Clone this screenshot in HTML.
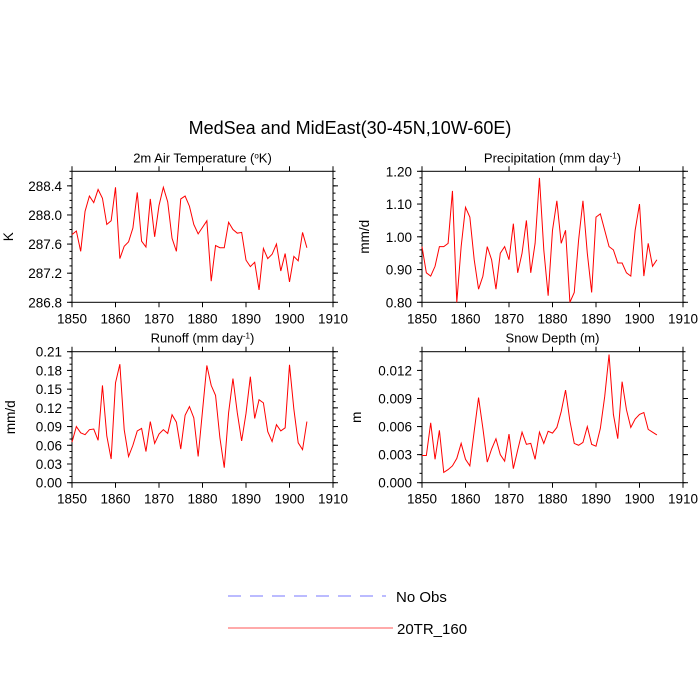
<!DOCTYPE html>
<html><head><meta charset="utf-8"><style>
body{margin:0;background:#fff;}
svg{display:block;font-family:"Liberation Sans",Arial,sans-serif;}
</style></head><body>
<svg id="chart" width="700" height="700" viewBox="0 0 700 700">
<rect width="700" height="700" fill="#fff"/>
<text x="350" y="134" font-size="18" text-anchor="middle">MedSea and MidEast(30-45N,10W-60E)</text>
<g>
<line x1="228" y1="596" x2="386" y2="596" stroke="#7777ff" stroke-width="1" stroke-dasharray="13,9"/>
<text x="396" y="602" font-size="15">No Obs</text>
<line x1="228" y1="628" x2="393" y2="628" stroke="#ff5555" stroke-width="1"/>
<text x="397" y="634" font-size="15">20TR_160</text>
</g>
</svg>
<script>
const years = [];
for (let y = 1850; y <= 1904; y++) years.push(y);
const xTicks = [1850,1860,1870,1880,1890,1900,1910];
const tempValues = [287.73,287.78,287.5,288.05,288.26,288.17,288.35,288.23,287.87,287.92,288.38,287.40,287.57,287.63,287.82,288.31,287.64,287.56,288.22,287.70,288.13,288.38,288.18,287.68,287.50,288.22,288.26,288.12,287.87,287.74,287.83,287.92,287.09,287.58,287.55,287.55,287.90,287.80,287.75,287.76,287.38,287.29,287.35,286.97,287.54,287.40,287.46,287.60,287.23,287.47,287.08,287.43,287.37,287.76,287.55];
const precipValues = [0.97,0.89,0.88,0.91,0.97,0.97,0.98,1.14,0.80,0.97,1.09,1.06,0.93,0.84,0.88,0.97,0.93,0.84,0.95,0.97,0.93,1.04,0.89,0.95,1.05,0.89,0.98,1.18,0.96,0.82,1.02,1.11,0.98,1.02,0.80,0.83,0.99,1.11,0.95,0.83,1.06,1.07,1.02,0.97,0.96,0.92,0.92,0.89,0.88,1.02,1.10,0.88,0.98,0.91,0.93];
const runoffValues = [0.065,0.090,0.080,0.077,0.085,0.086,0.068,0.156,0.075,0.038,0.160,0.190,0.085,0.042,0.060,0.083,0.087,0.050,0.098,0.063,0.078,0.085,0.079,0.109,0.097,0.054,0.108,0.122,0.104,0.042,0.115,0.188,0.156,0.140,0.072,0.024,0.112,0.167,0.112,0.067,0.111,0.170,0.103,0.133,0.128,0.082,0.066,0.093,0.083,0.088,0.189,0.118,0.064,0.053,0.098];
const snowValues = [0.0029,0.0029,0.0064,0.0025,0.0056,0.0011,0.0014,0.0018,0.0026,0.0042,0.0025,0.0018,0.0055,0.0091,0.0058,0.0022,0.0036,0.0047,0.0030,0.0023,0.0052,0.0015,0.0035,0.0054,0.0041,0.0042,0.0025,0.0054,0.0042,0.0055,0.0053,0.0059,0.0076,0.0099,0.0066,0.0042,0.0040,0.0043,0.0060,0.0041,0.0039,0.0058,0.0092,0.0137,0.0073,0.0047,0.0108,0.0078,0.0059,0.0068,0.0073,0.0075,0.0057,0.0054,0.0051];
const tempTicks = ["286.8","287.2","287.6","288.0","288.4"];
const precipTicks = ["0.80","0.90","1.00","1.10","1.20"];
const runoffTicks = ["0.00","0.03","0.06","0.09","0.12","0.15","0.18","0.21"];
const snowTicks = ["0.000","0.003","0.006","0.009","0.012"];

const NS = "http://www.w3.org/2000/svg";
const svg = document.getElementById("chart");
function mk(tag, attrs, parent) {
  const e = document.createElementNS(NS, tag);
  for (const k in attrs) e.setAttribute(k, attrs[k]);
  parent.appendChild(e);
  return e;
}

function panel(cfg) {
  const g = mk("g", {}, svg);
  
  
  const L = cfg.x0, R = cfg.x1, T = cfg.y0, B = cfg.y1;
  const xs = v => L + (v - 1850) / 60 * (R - L);
  const ys = v => B - (v - cfg.ymin) / (cfg.ymax - cfg.ymin) * (B - T);
  const axis = mk("g", {stroke: "#000", "stroke-width": 1, fill: "none"}, g);
  
  
  mk("rect", {x: L, y: T, width: R - L, height: B - T}, axis);
  xTicks.forEach(t => {
    const x = xs(t);
    mk("line", {x1: x, y1: B, x2: x, y2: B + 5}, axis);
    mk("line", {x1: x, y1: T, x2: x, y2: T - 5}, axis);
    const tl = mk("text", {x: x, y: B + 21, "font-size": 13.5, "text-anchor": "middle", fill: "#000", stroke: "none"}, g);
    tl.textContent = t;
    
    
  });
  cfg.ticks.forEach(s => {
    const v = parseFloat(s), y = ys(v);
    mk("line", {x1: L, y1: y, x2: L - 5, y2: y}, axis);
    mk("line", {x1: R, y1: y, x2: R + 5, y2: y}, axis);
    const tl = mk("text", {x: L - 10, y: y + 5, "font-size": 13.5, "text-anchor": "end", fill: "#000", stroke: "none"}, g);
    tl.textContent = s;
    
    
  });
  const n = Math.round((cfg.ymax - cfg.ymin) / cfg.minor);
  for (let i = 0; i <= n; i++) {
    const y = ys(cfg.ymin + i * cfg.minor);
    mk("line", {x1: L, y1: y, x2: L - 2.5, y2: y}, axis);
    mk("line", {x1: R, y1: y, x2: R + 2.5, y2: y}, axis);
  }
  const title = mk("text", {x: (L + R) / 2, y: T - 9, "font-size": 13, "text-anchor": "middle"}, g);
  title.innerHTML = cfg.title;
  
  
  const yl = mk("text", {x: 0, y: 0, "font-size": 13.5, "text-anchor": "middle", transform: `translate(${L - cfg.ylOff},${(T + B) / 2}) rotate(-90)`}, g);
  yl.textContent = cfg.ylabel;
  
  
  const pts = cfg.data.map((v, i) => xs(years[i]).toFixed(2) + "," + ys(v).toFixed(2)).join(" ");
  const line = mk("polyline", {points: pts, fill: "none", stroke: "#ff0000", "stroke-width": 1}, g);
  
  
}

panel({name: "temperature-panel", x0: 72, x1: 333, y0: 171.3, y1: 302.3, ymin: 286.8, ymax: 288.6, minor: 0.1, ticks: tempTicks, data: tempValues, ylabel: "K", ylOff: 59, title: '2m Air Temperature (<tspan baseline-shift="super" font-size="8">o</tspan>K)'});
panel({name: "precipitation-panel", x0: 422, x1: 683, y0: 171.3, y1: 302.3, ymin: 0.80, ymax: 1.20, minor: 0.02, ticks: precipTicks, data: precipValues, ylabel: "mm/d", ylOff: 53, title: 'Precipitation (mm day<tspan baseline-shift="super" font-size="8">-1</tspan>)'});
panel({name: "runoff-panel", x0: 72, x1: 333, y0: 351.7, y1: 482.7, ymin: 0, ymax: 0.21, minor: 0.01, ticks: runoffTicks, data: runoffValues, ylabel: "mm/d", ylOff: 57, title: 'Runoff (mm day<tspan baseline-shift="super" font-size="8">-1</tspan>)'});
panel({name: "snow-depth-panel", x0: 422, x1: 683, y0: 351.7, y1: 482.7, ymin: 0, ymax: 0.014, minor: 0.001, ticks: snowTicks, data: snowValues, ylabel: "m", ylOff: 61, title: 'Snow Depth (m)'});
</script>
</body></html>
